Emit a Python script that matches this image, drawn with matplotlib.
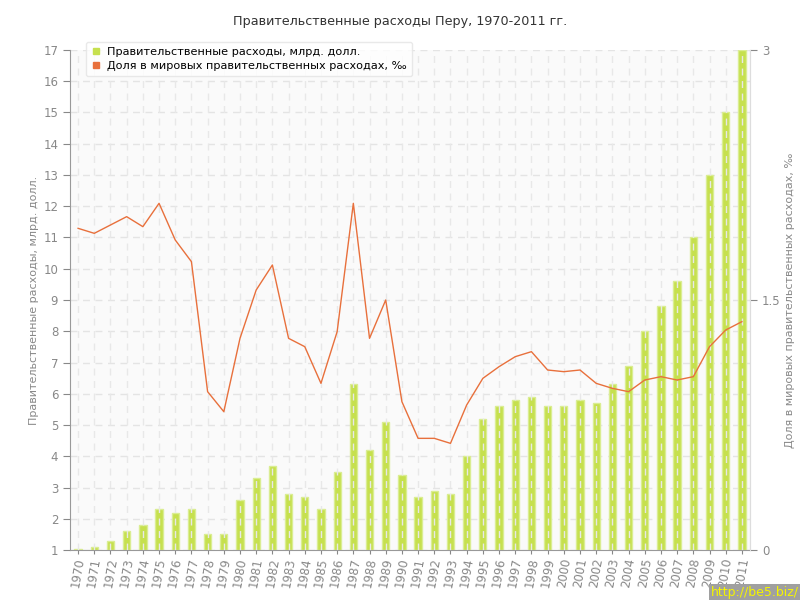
import matplotlib
matplotlib.use("Agg")
import matplotlib.pyplot as plt
from matplotlib.lines import Line2D
import numpy as np

years = list(range(1970, 2012))
spending = [1.03, 1.1, 1.3, 1.6, 1.8, 2.3, 2.2, 2.3, 1.5, 1.5,
            2.6, 3.3, 3.7, 2.8, 2.7, 2.3, 3.5, 6.3, 4.2, 5.1,
            3.4, 2.7, 2.9, 2.8, 4.0, 5.2, 5.6, 5.8, 5.9, 5.6,
            5.6, 5.8, 5.7, 6.3, 6.9, 8.0, 8.8, 9.6, 11.0, 13.0,
            15.0, 17.0]
share = [1.93, 1.90, 1.95, 2.00, 1.94, 2.08, 1.86, 1.73, 0.95, 0.83,
         1.27, 1.56, 1.71, 1.27, 1.22, 1.00, 1.31, 2.08, 1.27, 1.50,
         0.89, 0.67, 0.67, 0.64, 0.87, 1.03, 1.10, 1.16, 1.19, 1.08,
         1.07, 1.08, 1.00, 0.97, 0.95, 1.02, 1.04, 1.02, 1.04, 1.22,
         1.32, 1.37]

title = "Правительственные расходы Перу, 1970-2011 гг."
label_left = "Правительственные расходы, млрд. долл."
label_right = "Доля в мировых правительственных расходах, ‰"

bar_color = "#c6e04e"
bar_edge = "#daed92"
line_color = "#e8703c"
tick_color = "#888888"

fig = plt.figure(figsize=(8, 6), dpi=100)
ax = fig.add_axes([0.0875, 0.0833, 0.85, 0.8334])
ax.set_facecolor("#fafafa")

x = np.arange(len(years))
bottom = 1
ax.bar(x, [v - bottom for v in spending], bottom=bottom, width=0.45,
       color=bar_color, edgecolor=bar_edge, linewidth=1.0, zorder=2)

ax.set_xlim(-0.5, len(years) - 0.5)
ax.set_ylim(1, 17)
ax.set_yticks(range(1, 18))
ax.set_xticks(x)
ax.set_xticklabels([str(y) for y in years], rotation=80, fontsize=8.5,
                   color=tick_color)
ax.tick_params(axis='y', labelsize=8.5, labelcolor=tick_color,
               color=tick_color, length=5, direction='out')
ax.tick_params(axis='x', color=tick_color, length=3, direction='out', pad=2)

# horizontal grid behind bars, vertical grid over bars
ax.grid(True, axis='y', linestyle=(0, (5, 4)), color="#e4e4e4",
        linewidth=1.0, zorder=0)
ax.set_axisbelow(True)
for xi in x:
    ax.axvline(xi, linestyle=(0, (5, 4)), color="#e8e8e8", linewidth=1.0,
               zorder=3)

ax.spines['top'].set_visible(False)
ax.spines['left'].set_color("#999999")
ax.spines['bottom'].set_color("#999999")
ax.spines['right'].set_color("#dddddd")

ax.set_ylabel(label_left, fontsize=8, color=tick_color, labelpad=3)

ax2 = ax.twinx()
ax2.plot(x, share, color=line_color, linewidth=1.0, zorder=5)
ax2.set_ylim(0, 3)
ax2.set_yticks([0, 1.5, 3])
ax2.set_yticklabels(["0", "1.5", "3"])
ax2.tick_params(axis='y', labelsize=8.5, labelcolor=tick_color,
                color=tick_color, length=5, direction='out')
for s in ['top', 'left', 'bottom']:
    ax2.spines[s].set_visible(False)
ax2.spines['right'].set_color("#dddddd")
ax2.set_ylabel(label_right, fontsize=8, color=tick_color, labelpad=3)

fig.suptitle(title, y=0.975, fontsize=9.2, color="#333333")

handles = [
    Line2D([0], [0], marker='s', linestyle='none', markersize=4.5,
           markerfacecolor=bar_color, markeredgecolor=bar_color),
    Line2D([0], [0], marker='s', linestyle='none', markersize=4.5,
           markerfacecolor=line_color, markeredgecolor=line_color),
]
leg = fig.legend(handles, [label_left, label_right], loc='upper left',
                 bbox_to_anchor=(0.1, 0.94), fontsize=8.1, frameon=True,
                 fancybox=True, shadow=False, handlelength=0.8,
                 handletextpad=0.6, borderpad=0.5, labelspacing=0.3)
leg.get_frame().set_facecolor("white")
leg.get_frame().set_edgecolor("#e4e4e4")
leg.set_zorder(10)

fig.text(0.999, 0.002, "http://be5.biz/", ha='right', va='bottom',
         fontsize=9, color="#f5f500",
         bbox=dict(facecolor="#a0a0a0", edgecolor='none', pad=1.5))

fig.savefig("out.png", dpi=100)
